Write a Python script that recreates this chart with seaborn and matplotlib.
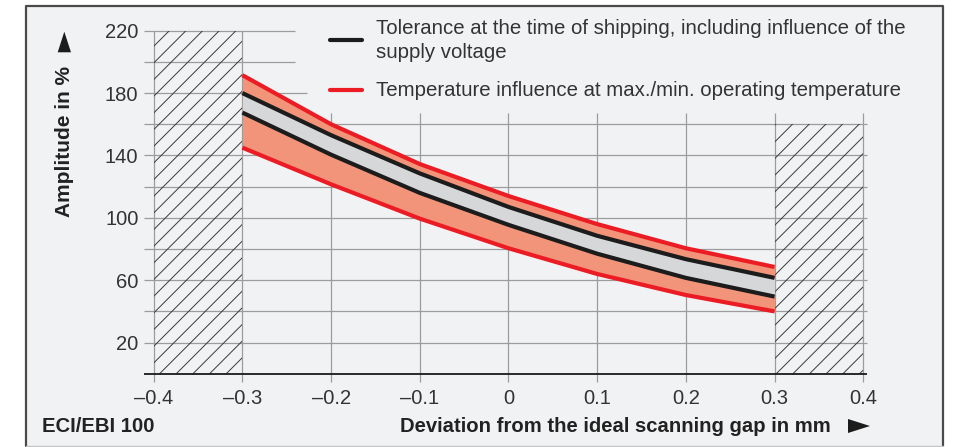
import matplotlib
matplotlib.use("Agg")
import matplotlib.pyplot as plt
import seaborn as sns
import pandas as pd
from matplotlib.patches import Rectangle, Polygon
from matplotlib.lines import Line2D

# ---------------- data ----------------
gap_mm = [-0.3, -0.2, -0.1, 0.0, 0.1, 0.2, 0.3]
tol_upper = [180, 153, 128.5, 107, 88.5, 73.5, 61.5]
tol_lower = [167.5, 140.5, 116, 95.5, 77, 61.5, 49.5]
temp_upper = [191.5, 160, 134.5, 114, 96, 80.5, 68.5]
temp_lower = [145, 121.5, 99.5, 80.5, 64, 50.5, 40]

x_ticks = [-0.4, -0.3, -0.2, -0.1, 0.0, 0.1, 0.2, 0.3, 0.4]
x_tick_labels = ["\u20130.4", "\u20130.3", "\u20130.2", "\u20130.1", "0", "0.1", "0.2", "0.3", "0.4"]
y_grid = [20, 40, 60, 80, 100, 120, 140, 160, 180, 200, 220]
y_tick_vals = [20, 60, 100, 140, 180, 220]
y_tick_labels = ["20", "60", "100", "140", "180", "220"]

legend_tol = ["Tolerance at the time of shipping, including influence of the", "supply voltage"]
legend_temp = "Temperature influence at max./min. operating temperature"
x_label = "Deviation from the ideal scanning gap in mm"
y_label = "Amplitude in %"
corner_label = "ECI/EBI 100"

invalid_left = (-0.4, -0.3, 220)
invalid_right = (0.3, 0.4, 160)

# ---------------- style ----------------
sns.set_style("white")
plt.rcParams["font.family"] = ["Liberation Sans Narrow", "Liberation Sans", "DejaVu Sans"]
plt.rcParams["hatch.linewidth"] = 0.7

W, H = 966, 447
fig = plt.figure(figsize=(W / 100, H / 100), dpi=100)
fig.patch.set_facecolor("white")


def fx(p):
    return p / W


def fy(p):
    return 1 - p / H


# panel background and frame
fig.add_artist(Rectangle((fx(26), fy(446)), fx(943) - fx(26), fy(6) - fy(446),
                         transform=fig.transFigure, facecolor="#f1f2f4",
                         edgecolor="none", zorder=0))
fig.add_artist(Line2D([fx(26), fx(26), fx(943), fx(943)], [fy(446), fy(6), fy(6), fy(446)],
                      transform=fig.transFigure, color="#4a4a4a", lw=1.6, zorder=1))
fig.add_artist(Line2D([fx(26), fx(943)], [fy(446), fy(446)],
                      transform=fig.transFigure, color="#c4c4c4", lw=1.0, zorder=1))

ax = fig.add_axes([fx(153.7), fy(373.8), (863.3 - 153.7) / W, (373.8 - 30.7) / H])
ax.patch.set_alpha(0)
for s in ax.spines.values():
    s.set_visible(False)
ax.set_xlim(-0.4, 0.4)
ax.set_ylim(0, 220)

grid_c = "#9c9c9c"
# horizontal grid lines
for yv in y_grid:
    if yv <= 160:
        xr = 0.404
    elif yv == 180:
        xr = -0.227
    else:
        xr = -0.241
    ax.hlines(yv, -0.411, xr, color=grid_c, lw=0.9, clip_on=False, zorder=1)
# vertical grid lines
for xv in x_ticks:
    top = 220 if xv <= -0.3 else 167
    ax.vlines(xv, -5, top, color=grid_c, lw=0.9, clip_on=False, zorder=1)

# hatched invalid ranges
for x0, x1, ytop in (invalid_left, invalid_right):
    ax.add_patch(Rectangle((x0, 0), x1 - x0, ytop, fill=False, hatch="//",
                           edgecolor="#3a3a3a", lw=0, zorder=1.5))

# bands
ax.fill_between(gap_mm, temp_lower, temp_upper, color="#f29479", lw=0, zorder=2)
ax.fill_between(gap_mm, tol_lower, tol_upper, color="#d6d7d9", lw=0, zorder=2.1)

df = pd.DataFrame({"gap": gap_mm, "tol_u": tol_upper, "tol_l": tol_lower,
                   "temp_u": temp_upper, "temp_l": temp_lower})
for col, c in (("temp_u", "#ec1c24"), ("temp_l", "#ec1c24"),
               ("tol_u", "#1c1c1c"), ("tol_l", "#1c1c1c")):
    sns.lineplot(data=df, x="gap", y=col, color=c, lw=3.0, ax=ax, zorder=3,
                 solid_capstyle="butt", solid_joinstyle="round")

# x axis line
ax.hlines(0, -0.411, 0.404, color="#1a1a1a", lw=1.3, clip_on=False, zorder=4)

ax.set_xticks(x_ticks, x_tick_labels)
ax.set_yticks(y_tick_vals, y_tick_labels)
ax.tick_params(axis="both", length=0, labelsize=14.5, labelcolor="#333333")
ax.tick_params(axis="x", pad=11)
ax.tick_params(axis="y", pad=11)
ax.set_xlabel("")
ax.set_ylabel("")

# legend
fig.add_artist(Line2D([fx(330), fx(362)], [fy(40), fy(40)], transform=fig.transFigure,
                      color="#1c1c1c", lw=3.0, solid_capstyle="round"))
fig.add_artist(Line2D([fx(330), fx(362)], [fy(90), fy(90)], transform=fig.transFigure,
                      color="#ec1c24", lw=3.0, solid_capstyle="round"))
fig.text(fx(376), fy(34.5), legend_tol[0], fontsize=14.7, color="#333333", va="baseline")
fig.text(fx(376), fy(57.5), legend_tol[1], fontsize=14.7, color="#333333", va="baseline")
fig.text(fx(376), fy(96.5), legend_temp, fontsize=14.7, color="#333333", va="baseline")

# axis labels
fig.text(fx(65), fy(141.7), y_label, rotation=90, ha="center", va="center",
         fontsize=15, fontweight="bold", color="#222222")
fig.text(fx(831), fy(432), x_label, ha="right", va="baseline",
         fontsize=14.6, fontweight="bold", color="#222222")
fig.text(fx(42), fy(432), corner_label, ha="left", va="baseline",
         fontsize=14.6, fontweight="bold", color="#222222")

# arrows
fig.add_artist(Polygon([[fx(57.7), fy(52.3)], [fx(71), fy(52.3)], [fx(64.3), fy(31.7)]],
                       closed=True, transform=fig.transFigure, color="#1c1c1c", lw=0))
fig.add_artist(Polygon([[fx(848), fy(419)], [fx(848), fy(433)], [fx(870), fy(426)]],
                       closed=True, transform=fig.transFigure, color="#1c1c1c", lw=0))

fig.savefig("out.png", dpi=100, facecolor="white")
